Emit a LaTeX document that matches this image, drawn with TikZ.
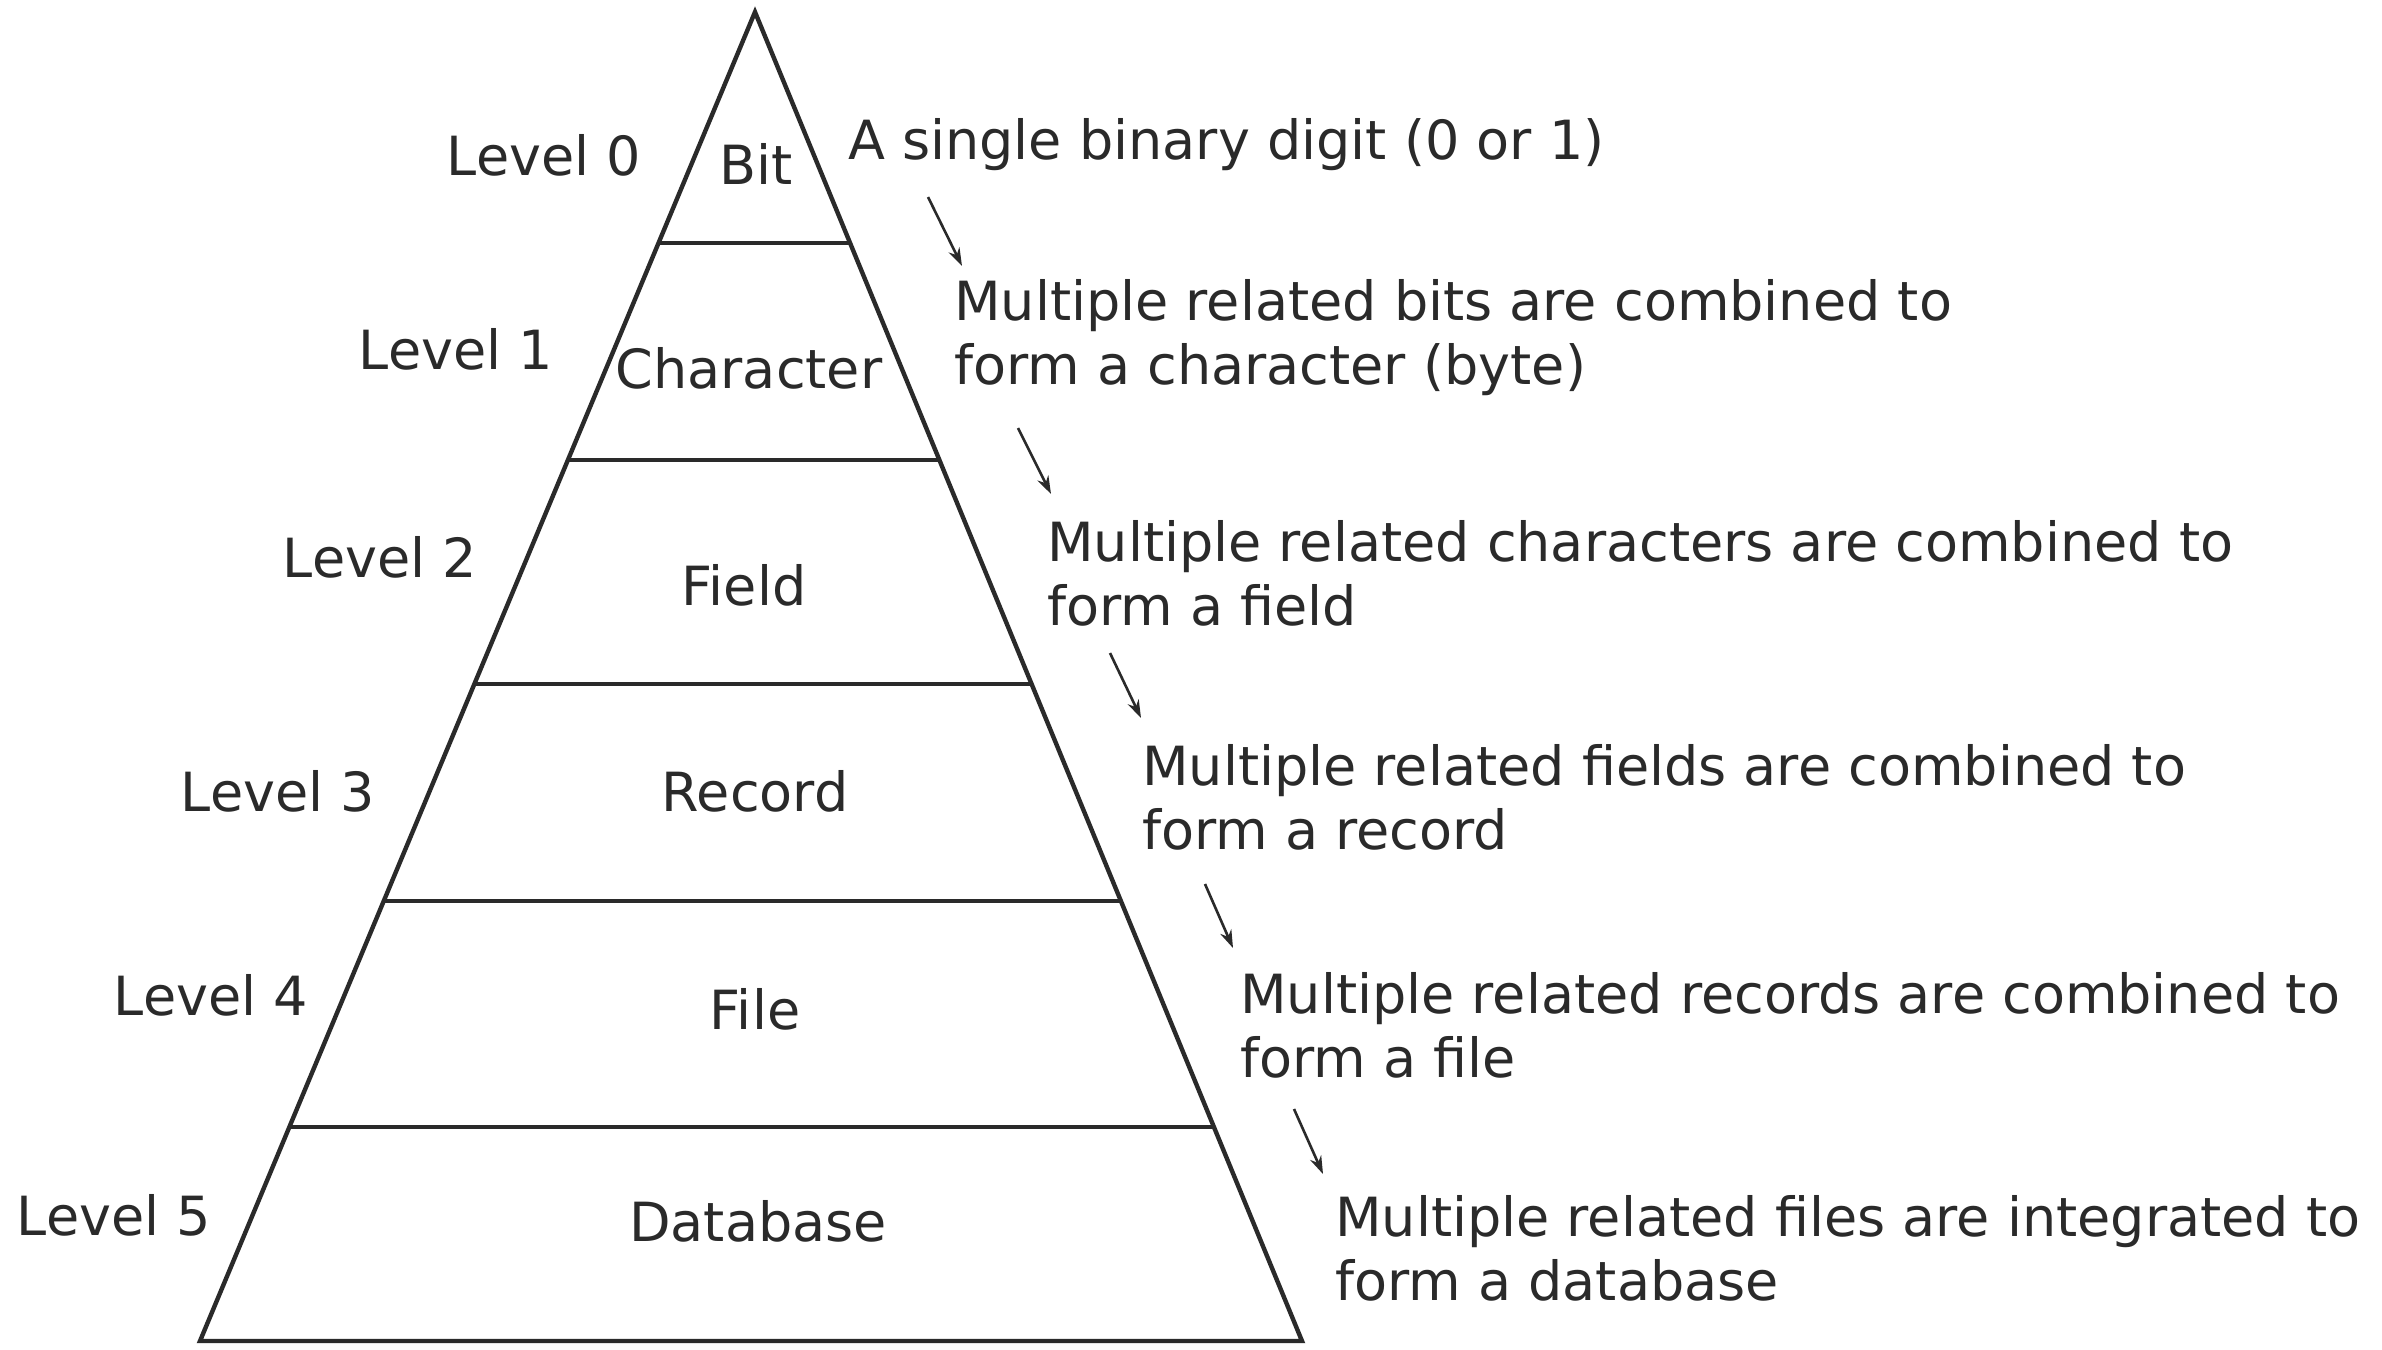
\documentclass[tikz,border=0pt]{standalone}
\usepackage{fontspec}
\setmainfont{DejaVu Sans}
\usetikzlibrary{calc,arrows.meta}
\definecolor{ink}{HTML}{2A2A2A}
\begin{document}
\begin{tikzpicture}[x=1pt,y=-1pt,
  edge/.style={draw=ink,line width=4.4pt,line join=miter},
  lbl/.style={font=\fontsize{54}{64}\selectfont,text=ink,inner sep=0pt},
  desc/.style={lbl,anchor=west,align=left},
  arr/.style={draw=ink,line width=2.6pt,-{Stealth[length=18pt,width=12pt]}}]
\useasboundingbox[fill=white] (0,0) rectangle (2382,1349);
\coordinate (apex) at (755,12);
\coordinate (bl) at (200,1341);
\coordinate (br) at (1302,1341);
\draw[edge] (bl) -- (apex) -- (br) -- cycle;
\foreach \i/\t in {1/0.1738,2/0.3371,3/0.5056,4/0.6689,5/0.8390}{
  \coordinate (L\i) at ($(apex)!\t!(bl)$);
  \coordinate (R\i) at ($(apex)!\t!(br)$);
  \draw[edge] (L\i) -- (R\i);
}
% level labels
\node[lbl] (lv0) at (544,155) {Level 0};
\node[lbl] (lv1) at (456,349) {Level 1};
\node[lbl] (lv2) at (380,557) {Level 2};
\node[lbl] (lv3) at (278,791) {Level 3};
\node[lbl] (lv4) at (211,995) {Level 4};
\node[lbl] (lv5) at (114,1215) {Level 5};
% inside labels
\node[lbl] (bit) at (756,164) {Bit};
\node[lbl] (chr) at (749,368) {Character};
\node[lbl] (fld) at (744,585) {Field};
\node[lbl] (rec) at (755,791) {Record};
\node[lbl] (fil) at (755,1009) {File};
\node[lbl] (dbs) at (758,1221) {Database};
% descriptions
\node[desc] (d0) at (848,145) {A single binary digit (0 or 1)};
\node[desc] (d1) at (954,338) {Multiple related bits are combined to\\form a character (byte)};
\node[desc] (d2) at (1047,573) {Multiple related characters are combined to\\form a field};
\node[desc] (d3) at (1142,797) {Multiple related fields are combined to\\form a record};
\node[desc] (d4) at (1240,1025) {Multiple related records are combined to\\form a file};
\node[desc] (d5) at (1335,1248) {Multiple related files are integrated to\\form a database};
% arrows
\coordinate (a0s) at (928,197); \coordinate (a0e) at (962,266);
\coordinate (a1s) at (1018,428); \coordinate (a1e) at (1051,494);
\coordinate (a2s) at (1110,653); \coordinate (a2e) at (1141,718);
\coordinate (a3s) at (1205,884); \coordinate (a3e) at (1233,948);
\coordinate (a4s) at (1294,1109); \coordinate (a4e) at (1323,1174);
\foreach \k in {0,...,4}{\draw[arr] (a\k s) -- (a\k e);}
\end{tikzpicture}
\end{document}
